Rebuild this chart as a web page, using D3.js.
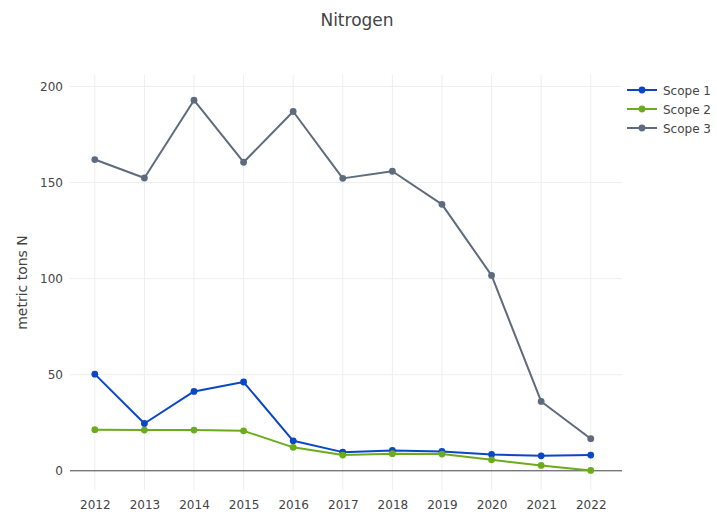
<!DOCTYPE html>
<html><head><meta charset="utf-8">
<script src="https://cdn.jsdelivr.net/npm/d3@7"></script>
<style>body{margin:0;background:#fff;font-family:"DejaVu Sans",Verdana,sans-serif;}</style>
</head><body><svg id="c" width="717" height="520"></svg>
<script>
const years = [2012,2013,2014,2015,2016,2017,2018,2019,2020,2021,2022];
const scope1 = [50.3,24.6,41.3,46.2,15.6,9.7,10.6,10.1,8.5,7.8,8.2];
const scope2 = [21.4,21.2,21.2,20.8,12.2,8.2,8.9,8.7,5.7,2.8,0.2];
const scope3 = [162,152.4,192.9,160.6,187,152.2,155.9,138.7,101.7,36.1,16.7];
const seriesNames = ["Scope 1","Scope 2","Scope 3"];
const colors = ["#0b47c2","#6cac1c","#5e6b7d"];
const yTicks = [0,50,100,150,200];
const series = [scope1, scope2, scope3];

const FONT = "'DejaVu Sans',Verdana,sans-serif";
const svg = d3.select("#c").style("font-family",FONT);
const L=70,R=622,T=75,B=490;
const x = d3.scaleLinear().domain([2011.5,2022.63]).range([L,R]);
const y = d3.scaleLinear().domain([-10,206]).range([B,T]);

// grid
svg.append("g").selectAll("line").data(years).join("line")
  .attr("x1",d=>x(d)).attr("x2",d=>x(d)).attr("y1",T).attr("y2",B)
  .attr("stroke","#eee").attr("stroke-width",1);
svg.append("g").selectAll("line").data(yTicks.filter(d=>d!==0)).join("line")
  .attr("x1",L).attr("x2",R).attr("y1",d=>y(d)).attr("y2",d=>y(d))
  .attr("stroke","#eee").attr("stroke-width",1);
svg.append("line").attr("x1",L).attr("x2",R).attr("y1",y(0)).attr("y2",y(0))
  .attr("stroke","#444").attr("stroke-width",1);

// axes
const xAxis = d3.axisBottom(x).tickValues(years).tickFormat(d3.format("d")).tickSize(0).tickPadding(0);
const gx = svg.append("g").attr("transform",`translate(0,${B+10})`).call(xAxis);
gx.select(".domain").remove();
gx.selectAll("text").attr("fill","#444").style("font-size","12px").style("font-family",FONT).attr("dy","0.71em");
const yAxis = d3.axisLeft(y).tickValues(yTicks).tickSize(0).tickPadding(0);
const gy = svg.append("g").attr("transform",`translate(${L-7},0)`).call(yAxis);
gy.select(".domain").remove();
gy.selectAll("text").attr("fill","#444").style("font-size","12px").style("font-family",FONT);

// title
svg.append("text").attr("x",357).attr("y",26).attr("text-anchor","middle")
  .attr("fill","#444").style("font-size","17px").text("Nitrogen");
svg.append("text").attr("transform",`translate(27,${(T+B)/2}) rotate(-90)`).attr("text-anchor","middle")
  .attr("fill","#444").style("font-size","14px").text("metric tons N");

// lines
const line = d3.line().x((d,i)=>x(years[i])).y(d=>y(d));
series.forEach((s,k)=>{
  const g = svg.append("g");
  g.append("path").datum(s).attr("d",line).attr("fill","none").attr("stroke",colors[k]).attr("stroke-width",2).attr("stroke-linejoin","round");
  g.selectAll("circle").data(s).join("circle").attr("cx",(d,i)=>x(years[i])).attr("cy",d=>y(d)).attr("r",3.4).attr("fill",colors[k]);
});

// legend
const lg = svg.append("g").attr("transform","translate(627,90)");
seriesNames.forEach((n,k)=>{
  const gi = lg.append("g").attr("transform",`translate(0,${k*19})`);
  gi.append("line").attr("x1",0).attr("x2",30).attr("y1",0).attr("y2",0).attr("stroke",colors[k]).attr("stroke-width",2);
  gi.append("circle").attr("cx",15).attr("cy",0).attr("r",3.4).attr("fill",colors[k]);
  gi.append("text").attr("x",36).attr("y",4.5).attr("fill","#444").style("font-size","12px").text(n);
});
</script></body></html>
